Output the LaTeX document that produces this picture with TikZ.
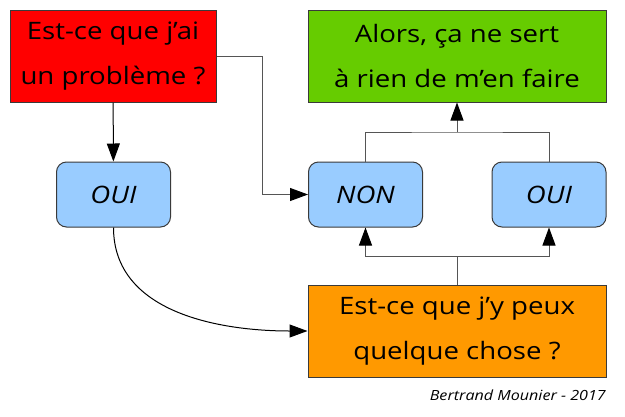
\documentclass[tikz,border=0pt]{standalone}
\usepackage{fontspec}
\setmainfont{Open Sans}[FakeStretch=1.15]
\usetikzlibrary{arrows.meta}
\definecolor{cred}{HTML}{FF0000}
\definecolor{cgreen}{HTML}{66CC00}
\definecolor{cblue}{HTML}{99CCFF}
\definecolor{corange}{HTML}{FF9900}
\definecolor{cborder}{HTML}{3A3A3A}
\definecolor{cline}{HTML}{555555}
\begin{document}
\begin{tikzpicture}[x=1pt,y=-1pt,
  bigbox/.style={draw=cborder, line width=1pt, minimum width=#1, minimum height=92pt, inner sep=0pt, align=center, font=\fontsize{24}{45}\selectfont},
  smallbox/.style={draw=cborder, line width=1pt, fill=cblue, rounded corners=10pt, minimum width=114pt, minimum height=65pt, inner sep=0pt, font=\fontsize{24}{28}\selectfont\itshape},
  conn/.style={draw=cline, line width=1pt},
  arr/.style={conn, -{Triangle[length=18pt,width=13pt,color=black]}},
]
\useasboundingbox (0,0) rectangle (625,416);
\fill[white] (0,0) rectangle (625,416);
\node[bigbox=206pt, fill=cred] (red) at (113,56) {Est-ce que j'ai\\un problème ?};
\node[bigbox=298pt, fill=cgreen] (green) at (457,56) {Alors, ça ne sert\\à rien de m'en faire};
\node[smallbox] (oui1) at (113.5,194.5) {OUI};
\node[smallbox] (non) at (365.5,194.5) {NON};
\node[smallbox] (oui2) at (549,194.5) {OUI};
\node[bigbox=298pt, fill=corange] (orange) at (457,331) {Est-ce que j'y peux\\quelque chose ?};
\node[font=\fontsize{14}{16}\selectfont\itshape, anchor=east, inner sep=0pt] (credit) at (606,395) {Bertrand Mounier - 2017};
\coordinate (j1) at (457,132);
\coordinate (j2) at (457,256);
\coordinate (r1) at (262,56);
\draw[arr, draw=black] (red) -- (oui1);
\draw[arr] (red.east) -- (r1) |- (non.west);
\draw[conn] (non.north) |- (j1) -| (oui2.north);
\draw[arr] (j1) -- (green.south);
\draw[conn] (orange.north) -- (j2);
\draw[arr] (j2) -| (non.south);
\draw[arr] (j2) -| (oui2.south);
\draw[arr, draw=black] (oui1.south) to[out=-90,in=180] (orange.west);
\end{tikzpicture}
\end{document}
